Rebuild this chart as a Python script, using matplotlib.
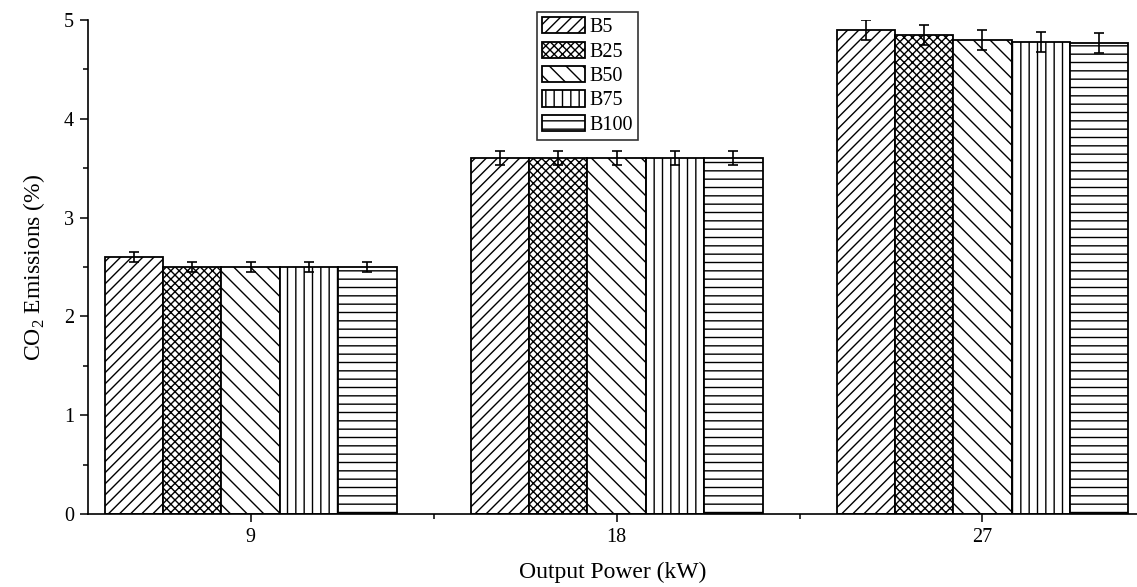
import numpy as np
import matplotlib.pyplot as plt
from matplotlib.ticker import MultipleLocator

plt.rcParams.update({
    "font.family": "Liberation Serif",
    "axes.spines.top": False,
    "axes.spines.right": False,
    "hatch.linewidth": 1.0,
    "mathtext.fontset": "custom",
    "mathtext.rm": "Liberation Serif",
})

power = [9, 18, 27]
blends = ["B5", "B25", "B50", "B75", "B100"]
co2 = {
    "B5": [2.60, 3.60, 4.90],
    "B25": [2.50, 3.60, 4.85],
    "B50": [2.50, 3.60, 4.80],
    "B75": [2.50, 3.60, 4.78],
    "B100": [2.50, 3.60, 4.77],
}
co2_err = {
    "B5": [0.05, 0.07, 0.10],
    "B25": [0.05, 0.07, 0.10],
    "B50": [0.05, 0.07, 0.10],
    "B75": [0.05, 0.07, 0.10],
    "B100": [0.05, 0.07, 0.10],
}
hatches = ["///", "xxxx", "\\\\", "||", "--"]

fig = plt.figure(figsize=(11.37, 5.87), dpi=100)
ax = fig.add_axes([0.0774, 0.1244, 0.9226, 0.8415])

w = 1.436
x = np.array(power, dtype=float)
for i, (b, h) in enumerate(zip(blends, hatches)):
    ax.bar(x + (i - 2) * w, co2[b], width=w, facecolor="white",
           edgecolor="black", linewidth=1.3, hatch=h, label=b,
           yerr=co2_err[b], capsize=3.5,
           error_kw=dict(ecolor="black", elinewidth=1.2, capthick=1.2))

ax.set_xlim(5, 30.8)
ax.set_ylim(0, 5)
ax.xaxis.set_major_locator(MultipleLocator(9))
ax.xaxis.set_minor_locator(MultipleLocator(4.5))
ax.yaxis.set_major_locator(MultipleLocator(1))
ax.yaxis.set_minor_locator(MultipleLocator(0.5))
ax.tick_params(which="major", direction="out", length=6, width=1.1,
               labelsize=14.5, pad=4)
ax.tick_params(which="minor", direction="out", length=3.5, width=1.1)
for s in ["left", "bottom"]:
    ax.spines[s].set_linewidth(1.2)

ax.set_xlabel("Output Power (kW)", fontsize=17, labelpad=11)
ax.set_ylabel("CO$_2$ Emissions (%)", fontsize=17, labelpad=12)

leg = ax.legend(loc="upper center", bbox_to_anchor=(0.476, 1.016),
                fontsize=14.5, frameon=True, fancybox=False, edgecolor="black",
                handlelength=2.15, handleheight=0.85, handletextpad=0.2,
                labelspacing=0.22, borderpad=0.25, borderaxespad=0)
leg.get_frame().set_linewidth(1.2)

fig.savefig("out.png", dpi=100)
